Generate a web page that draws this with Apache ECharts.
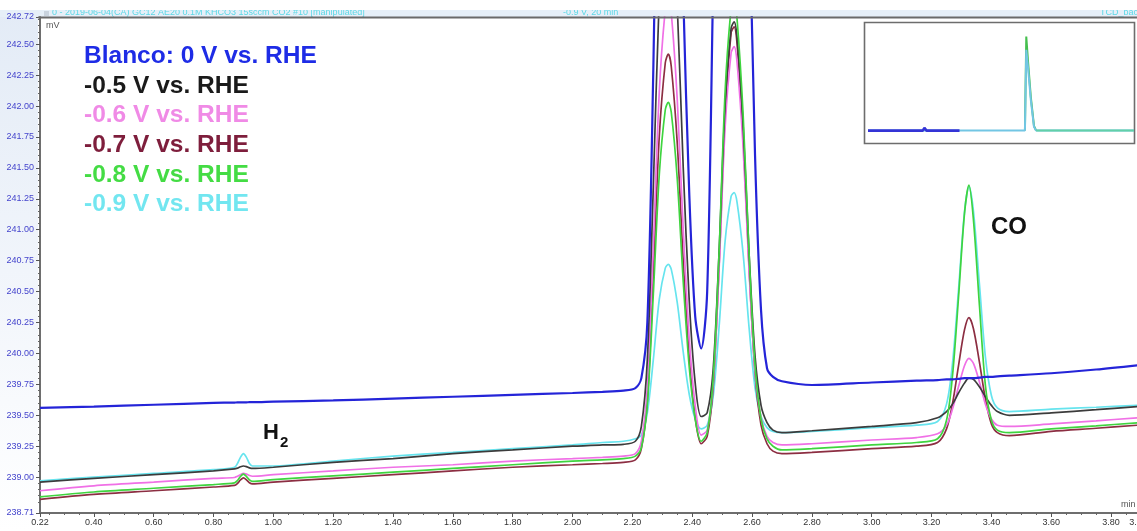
<!DOCTYPE html>
<html>
<head>
<meta charset="utf-8">
<script src="https://cdn.jsdelivr.net/npm/echarts@6/dist/echarts.min.js"></script>
<style>
  html, body { margin: 0; padding: 0; background: #ffffff; }
  #chart { width: 1137px; height: 531px; }
</style>
</head>
<body>
<div id="chart"></div>
<script>
// Retention time (min) shared by all traces
const times = [
  0.22, 0.40, 0.60, 0.80,
  0.87, 0.88, 0.89, 0.90, 0.91, 0.92, 0.93,
  1.00, 1.20, 1.40, 1.60, 1.80, 2.00, 2.10, 2.17,
  2.21, 2.23, 2.25, 2.27, 2.29, 2.31, 2.32, 2.33, 2.35, 2.37, 2.39, 2.41, 2.43,
  2.45, 2.47, 2.49, 2.51, 2.53, 2.54, 2.55, 2.57, 2.59, 2.61, 2.63, 2.65, 2.67, 2.70,
  2.80, 3.00, 3.15,
  3.22, 3.25, 3.27, 3.29, 3.31, 3.325, 3.34, 3.36, 3.38, 3.40, 3.42, 3.46,
  3.60, 3.75, 3.89
];

// Detector signal (mV) for each potential
const blanco = [
  239.56, 239.57, 239.585, 239.60,
  239.603, 239.604, 239.604, 239.605, 239.605, 239.606, 239.606,
  239.61, 239.62, 239.635, 239.65, 239.665, 239.68, 239.69, 239.70,
  239.72, 239.80, 240.25, 242.3, 245.0, 246.5, 247.0, 246.6, 245.0, 242.9, 241.3, 240.30, 240.04,
  240.50, 243.0, 245.5, 247.5, 248.5, 248.6, 248.3, 246.5, 243.8, 241.6, 240.35, 239.88, 239.81, 239.775,
  239.745, 239.765, 239.78,
  239.785, 239.79, 239.79, 239.795, 239.80, 239.80, 239.80, 239.805, 239.81, 239.81, 239.815, 239.82,
  239.84, 239.87, 239.905
];
const minus05 = [
  238.96, 238.99, 239.02, 239.05,
  239.066, 239.073, 239.084, 239.09, 239.085, 239.075, 239.07,
  239.08, 239.12, 239.15, 239.19, 239.22, 239.25, 239.26, 239.265,
  239.29, 239.41, 239.95, 241.35, 242.89, 243.70, 243.79, 243.66, 242.81, 241.50, 240.43, 239.76, 239.49,
  239.52, 239.87, 240.83, 242.01, 242.63, 242.68, 242.55, 241.85, 240.81, 239.98, 239.58, 239.44, 239.38, 239.36,
  239.375, 239.41, 239.44,
  239.48, 239.53, 239.59, 239.68, 239.76, 239.80, 239.79, 239.73, 239.65, 239.58, 239.53, 239.50,
  239.52, 239.545, 239.57
];
const minus06 = [
  238.89, 238.93, 238.96, 238.99,
  238.997, 239.007, 239.02, 239.03, 239.024, 239.013, 239.007,
  239.02, 239.05, 239.08, 239.10, 239.13, 239.15, 239.16, 239.17,
  239.19, 239.29, 239.73, 240.87, 242.12, 242.78, 242.85, 242.75, 242.05, 241.00, 240.12, 239.58, 239.34,
  239.38, 239.76, 240.69, 241.83, 242.43, 242.48, 242.35, 241.67, 240.67, 239.86, 239.48, 239.33, 239.28, 239.26,
  239.27, 239.30, 239.32,
  239.35, 239.42, 239.55, 239.73, 239.90, 239.96, 239.92, 239.77, 239.59, 239.47, 239.42, 239.41,
  239.43, 239.455, 239.48
];
const minus07 = [
  238.82, 238.86, 238.89, 238.92,
  238.933, 238.949, 238.977, 238.994, 238.978, 238.955, 238.945,
  238.96, 238.99, 239.02, 239.05, 239.08, 239.10, 239.11, 239.12,
  239.14, 239.23, 239.62, 240.64, 241.76, 242.35, 242.42, 242.32, 241.70, 240.75, 239.97, 239.48, 239.27,
  239.33, 239.73, 240.72, 241.94, 242.59, 242.64, 242.50, 241.78, 240.70, 239.84, 239.42, 239.27, 239.21, 239.19,
  239.20, 239.23, 239.25,
  239.28, 239.39, 239.595, 239.90, 240.19, 240.29, 240.20, 239.93, 239.63, 239.43, 239.36, 239.335,
  239.37, 239.395, 239.42
];
const minus08 = [
  238.84, 238.88, 238.91, 238.94,
  238.954, 238.972, 239.005, 239.024, 239.005, 238.978, 238.965,
  238.98, 239.01, 239.04, 239.07, 239.10, 239.13, 239.14, 239.15,
  239.17, 239.24, 239.59, 240.48, 241.45, 241.97, 242.03, 241.95, 241.41, 240.58, 239.89, 239.47, 239.29,
  239.36, 239.79, 240.83, 242.12, 242.79, 242.85, 242.70, 241.94, 240.81, 239.90, 239.47, 239.31, 239.25, 239.22,
  239.23, 239.26, 239.28,
  239.31, 239.46, 239.82, 240.45, 241.13, 241.36, 241.08, 240.39, 239.74, 239.46, 239.38, 239.36,
  239.39, 239.415, 239.44
];
const minus09 = [
  238.97, 239.00, 239.03, 239.06,
  239.08, 239.11, 239.16, 239.19, 239.16, 239.11, 239.09,
  239.09, 239.13, 239.17, 239.20, 239.23, 239.26, 239.28, 239.29,
  239.31, 239.34, 239.52, 239.95, 240.44, 240.69, 240.72, 240.68, 240.41, 240.01, 239.67, 239.47, 239.39,
  239.42, 239.65, 240.22, 240.91, 241.27, 241.30, 241.22, 240.81, 240.21, 239.72, 239.49, 239.40, 239.37, 239.36,
  239.37, 239.40, 239.42,
  239.45, 239.59, 239.92, 240.51, 241.14, 241.35, 241.15, 240.56, 239.97, 239.66, 239.56, 239.53,
  239.55, 239.565, 239.58
];

// Series names and colours
const seriesNames = ['Blanco: 0 V vs. RHE', '-0.5 V vs. RHE', '-0.6 V vs. RHE', '-0.7 V vs. RHE', '-0.8 V vs. RHE', '-0.9 V vs. RHE'];
const lineColors = ['#2424d8', '#3c3c3c', '#f070e6', '#8c2e42', '#3fd43f', '#66e4ee'];
const textColors = ['#1e2ce6', '#1a1a1a', '#f08ae6', '#7e1e3c', '#44dc44', '#72e6f0'];

// Axis tick labels
const xTickValues = [0.22, 0.40, 0.60, 0.80, 1.00, 1.20, 1.40, 1.60, 1.80, 2.00, 2.20, 2.40, 2.60, 2.80, 3.00, 3.20, 3.40, 3.60, 3.80, 3.89];
const yTickValues = [238.71, 239.00, 239.25, 239.50, 239.75, 240.00, 240.25, 240.50, 240.75, 241.00, 241.25, 241.50, 241.75, 242.00, 242.25, 242.50, 242.72];

// Overview traces in the small inset window
const insetTimes     = [0, 1.03, 1.06, 1.08, 1.10, 1.72, 2.95, 2.975, 3.01, 3.06, 3.12, 3.16, 5.0];
const insetBlanco    = [0, 0, 0.03, 0.01, 0, 0];
const insetCyan      = [0, 0, 0, 0, 0, 0, 0, 0.86, 0.66, 0.33, 0.04, 0, 0];
const insetGreenTime = [2.95, 2.975, 3.01, 3.06, 3.12, 3.16];
const insetGreen     = [0, 1.0, 0.72, 0.36, 0.05, 0];
const insetTailTime  = [3.16, 5.0];
const insetTail      = [0, 0];

// minor tick positions between labelled ticks
function minorTicks(from, to, step, major) {
  const out = [];
  for (let v = from; v <= to + 1e-9; v += step) {
    const r = Math.round(v * 100) / 100;
    if (Math.abs(r / major - Math.round(r / major)) > 1e-6) out.push(r);
  }
  return out;
}
const xMinor = minorTicks(0.25, 3.85, 0.05, 0.2);
const yMinor = minorTicks(238.75, 242.70, 0.05, 0.25);

const traces = [blanco, minus05, minus06, minus07, minus08, minus09];
const pairs = (xs, ys) => ys.map((y, i) => [xs[i], y]);

// drawing order: cyan first, blue last
const drawOrder = [5, 3, 2, 1, 4, 0];
const mainSeries = drawOrder.map(k => ({
  name: seriesNames[k],
  type: 'line',
  xAxisIndex: 0,
  yAxisIndex: 0,
  data: pairs(times, traces[k]),
  showSymbol: false,
  smooth: 0.3,
  clip: true,
  lineStyle: { color: lineColors[k], width: k === 0 ? 2.2 : 1.7 },
  z: 2,
  silent: true
}));

const insetSeries = [
  { data: pairs(insetGreenTime, insetGreen), color: '#45bf4e', width: 2 },
  { data: pairs(insetTimes, insetCyan), color: '#72c6e4', width: 2 },
  { data: pairs(insetTailTime, insetTail), color: '#62d0a8', width: 2 },
  { data: pairs(insetTimes, insetBlanco), color: '#3434d6', width: 2.6 }
].map(s => ({
  type: 'line',
  xAxisIndex: 2,
  yAxisIndex: 2,
  data: s.data,
  showSymbol: false,
  lineStyle: { color: s.color, width: s.width },
  z: 6,
  silent: true
}));

const legendTexts = seriesNames.map((name, i) => ({
  type: 'text',
  left: 84,
  top: 44 + i * 29.6,
  z: 20,
  style: {
    text: name,
    fill: textColors[i],
    font: 'bold 24.5px "Liberation Sans", Arial, sans-serif'
  }
}));

const chart = echarts.init(document.getElementById('chart'), null, { renderer: 'canvas' });

chart.setOption({
  animation: false,
  backgroundColor: '#ffffff',
  grid: [
    { left: 40, top: 17, width: 1098, height: 496, containLabel: false, outerBoundsMode: 'none' },
    { left: 868, top: 30, width: 266, height: 110, containLabel: false, outerBoundsMode: 'none' }
  ],
  xAxis: [
    {
      type: 'value', gridIndex: 0, min: 0.22, max: 3.89, position: 'bottom',
      axisLine: { show: true, onZero: false, lineStyle: { color: '#6e6e6e', width: 2 } },
      axisTick: { show: true, customValues: xTickValues, length: 4, lineStyle: { color: '#555', width: 1 } },
      axisLabel: { customValues: xTickValues, formatter: v => v.toFixed(2), fontSize: 9, color: '#333',
                   fontFamily: '"Liberation Sans", Arial, sans-serif', margin: 5 },
      splitLine: { show: false }
    },
    {
      type: 'value', gridIndex: 0, min: 0.22, max: 3.89, position: 'bottom',
      axisLine: { show: false },
      axisTick: { show: true, customValues: xMinor, length: 2, lineStyle: { color: '#666', width: 1 } },
      axisLabel: { show: false },
      splitLine: { show: false }
    },
    { type: 'value', gridIndex: 1, min: 0, max: 5.0, show: false }
  ],
  yAxis: [
    {
      type: 'value', gridIndex: 0, min: 238.71, max: 242.72, position: 'left',
      axisLine: { show: true, onZero: false, lineStyle: { color: '#6e6e6e', width: 2 } },
      axisTick: { show: true, customValues: yTickValues, length: 4, lineStyle: { color: '#555', width: 1 } },
      axisLabel: { customValues: yTickValues, formatter: v => v.toFixed(2), fontSize: 9, color: '#4444cc',
                   fontFamily: '"Liberation Sans", Arial, sans-serif', margin: 6 },
      splitLine: { show: false }
    },
    {
      type: 'value', gridIndex: 0, min: 238.71, max: 242.72, position: 'left',
      axisLine: { show: false },
      axisTick: { show: true, customValues: yMinor, length: 2, lineStyle: { color: '#666', width: 1 } },
      axisLabel: { show: false },
      splitLine: { show: false }
    },
    { type: 'value', gridIndex: 1, min: -0.1, max: 1.07, show: false }
  ],
  graphic: [
    // pale panel behind the value axis labels
    {
      type: 'rect', z: 0, silent: true,
      shape: { x: 0, y: 10, width: 38, height: 521 },
      style: { fill: new echarts.graphic.LinearGradient(0, 0, 0, 1, [
        { offset: 0, color: '#e3ebf6' }, { offset: 0.5, color: '#f1f5fb' }, { offset: 1, color: '#ffffff' }
      ]) }
    },
    // title strip
    { type: 'rect', z: 0, silent: true, shape: { x: 0, y: 10, width: 1137, height: 7 }, style: { fill: '#e6eff8' } },
    { type: 'text', z: 1, left: 52, top: 8, style: { text: '0 - 2019-06-04(CA) GC12 AE20 0.1M KHCO3 15sccm CO2 #10 [manipulated]', fill: '#5cd8e6', font: '9px "Liberation Sans", Arial, sans-serif' } },
    { type: 'text', z: 1, left: 563, top: 8, style: { text: '-0.9 V, 20 min', fill: '#5cd8e6', font: '9px "Liberation Sans", Arial, sans-serif' } },
    { type: 'text', z: 1, left: 1100, top: 8, style: { text: 'TCD_back', fill: '#5cd8e6', font: '9px "Liberation Sans", Arial, sans-serif' } },
    { type: 'rect', z: 30, silent: true, shape: { x: 0, y: 0, width: 1137, height: 10 }, style: { fill: '#ffffff' } },
    { type: 'rect', z: 1, silent: true, shape: { x: 44, y: 11, width: 5, height: 5 }, style: { fill: '#c9d3de' } },
    // top frame line
    { type: 'line', z: 3, silent: true, shape: { x1: 38, y1: 17.5, x2: 1137, y2: 17.5 }, style: { stroke: '#6a6a6a', lineWidth: 2 } },
    // unit captions
    { type: 'text', z: 3, left: 46, top: 21, style: { text: 'mV', fill: '#555', font: '9px "Liberation Sans", Arial, sans-serif' } },
    { type: 'text', z: 3, left: 1121, top: 500, style: { text: 'min', fill: '#555', font: '9px "Liberation Sans", Arial, sans-serif' } },
    // peak annotations
    { type: 'text', z: 20, left: 991, top: 215, style: { text: 'CO', fill: '#111', font: 'bold 24px "Liberation Sans", Arial, sans-serif' } },
    {
      type: 'text', z: 20, left: 263, top: 422,
      style: {
        text: '{h|H}{s|2}',
        rich: {
          h: { fill: '#111', font: 'bold 22px "Liberation Sans", Arial, sans-serif', verticalAlign: 'bottom' },
          s: { fill: '#111', font: 'bold 15px "Liberation Sans", Arial, sans-serif', verticalAlign: 'bottom', padding: [0, 0, -6, 1] }
        }
      }
    },
    // inset window frame
    { type: 'rect', z: 4, silent: true, shape: { x: 864.5, y: 22.5, width: 270, height: 121 }, style: { fill: '#ffffff', stroke: '#6d6d6d', lineWidth: 1.6 } },
    ...legendTexts
  ],
  series: [...mainSeries, ...insetSeries]
});
</script>
</body>
</html>
